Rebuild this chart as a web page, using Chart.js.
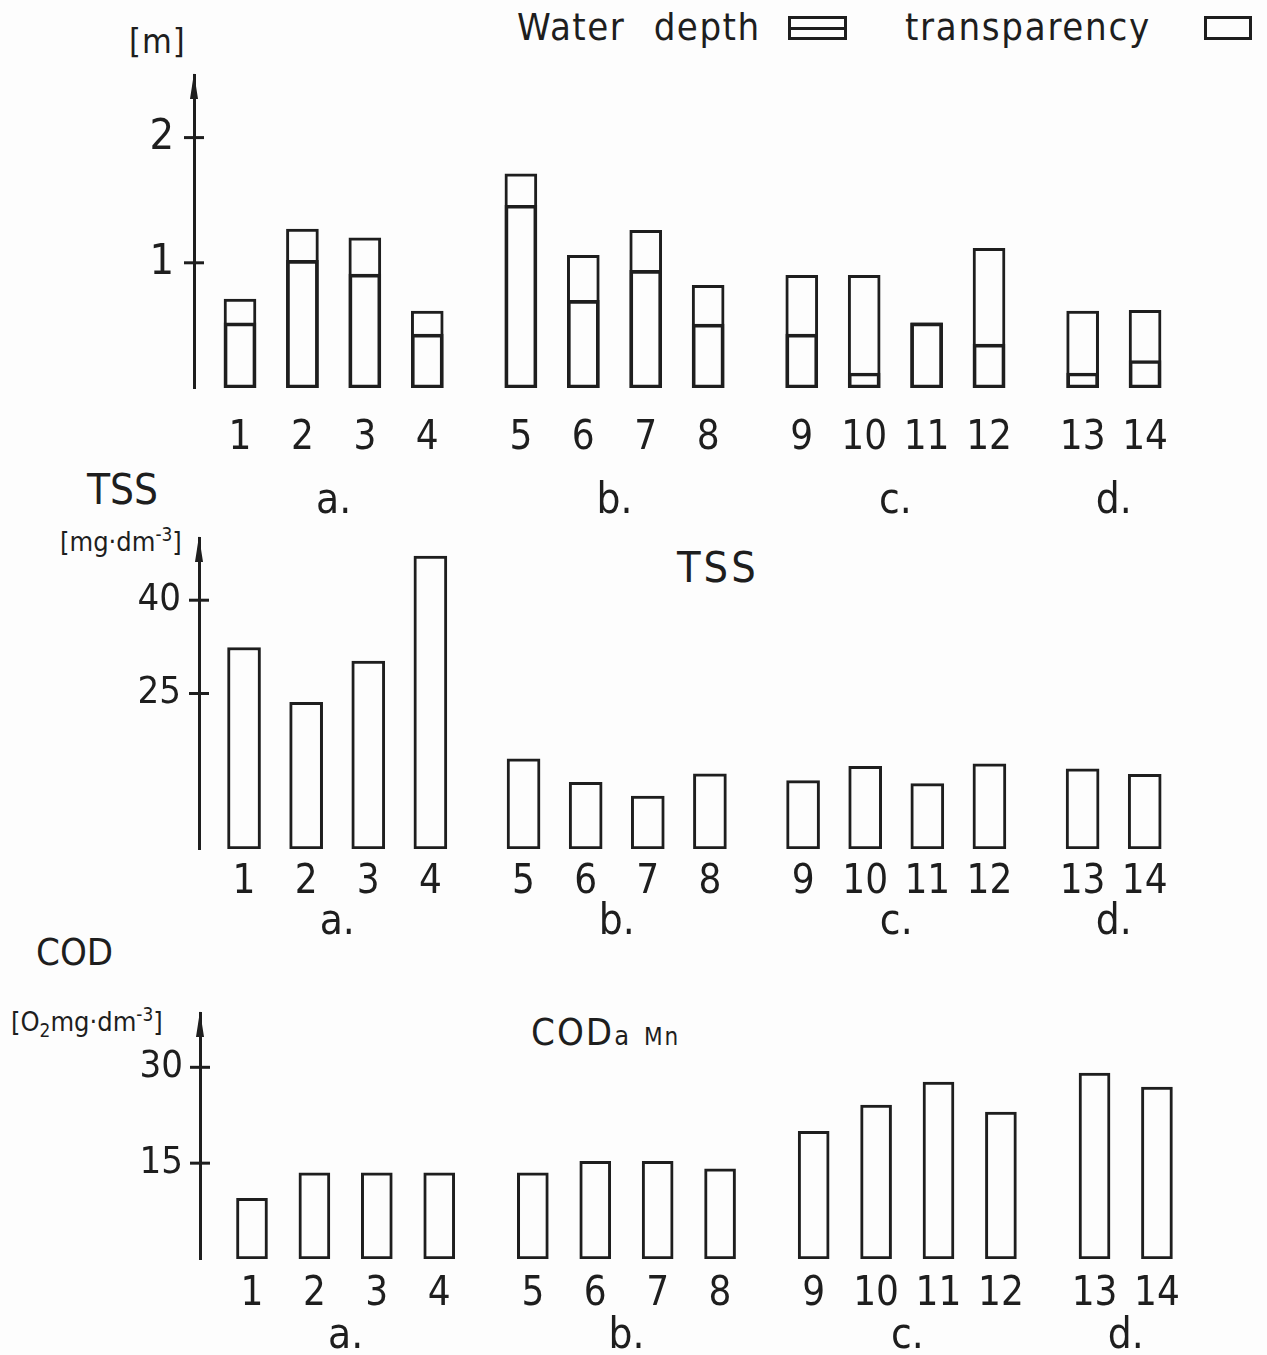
<!DOCTYPE html>
<html>
<head>
<meta charset="utf-8">
<script src="https://cdn.jsdelivr.net/npm/chart.js@4.4.1/dist/chart.umd.min.js"></script>
<style>
  body { margin: 0; background: #fdfdfd; }
  #page { position: relative; width: 1267px; height: 1355px; overflow: hidden;
          font-family: "DejaVu Sans Condensed", "Liberation Sans Narrow", "Liberation Sans", sans-serif; color: #1e1e1e; }
  canvas { position: absolute; left: 0; }
  .lbl { position: absolute; line-height: 1; white-space: pre; }
  .lbl sup { font-size: 0.7em; vertical-align: 0.55em; line-height: 0; }
  .lbl sub { font-size: 0.7em; vertical-align: -0.3em; line-height: 0; }
  .box { position: absolute; border: 3px solid #1e1e1e; box-sizing: border-box; }
  .box .mid { position: absolute; left: 0; right: 0; top: 50%; margin-top: -1.5px; border-top: 3px solid #1e1e1e; }
</style>
</head>
<body>
<div id="page">
  <div class="lbl" style="left:517px; top:8px; font-size:38px; letter-spacing:1.5px; word-spacing:16px;">Water depth</div>
  <div class="box" style="left:788px; top:16px; width:59px; height:24px;"><div class="mid"></div></div>
  <div class="lbl" style="left:905px; top:8px; font-size:38px; letter-spacing:1.7px;">transparency</div>
  <div class="box" style="left:1204px; top:16px; width:48px; height:24px;"></div>

  <div class="lbl" style="left:129px; top:24px; font-size:34px; letter-spacing:1px;">[m]</div>

  <div class="lbl" style="left:87px; top:469px; font-size:42px;">TSS</div>
  <div class="lbl" style="left:60px; top:528px; font-size:27px;">[mg·dm<sup>-3</sup>]</div>
  <div class="lbl" style="left:677px; top:546px; font-size:43px; letter-spacing:3px;">TSS</div>

  <div class="lbl" style="left:36px; top:933px; font-size:38px;">COD</div>
  <div class="lbl" style="left:11px; top:1008px; font-size:27px;">[O<sub>2</sub>mg·dm<sup>-3</sup>]</div>
  <div class="lbl" style="left:531px; top:1013px; font-size:38px; letter-spacing:2px;">COD<span style="font-size:27px;">a</span> <span style="font-size:24px;">Mn</span></div>

  <canvas id="depthChart" width="1267" height="457" style="top:60px;"></canvas>
  <canvas id="tssChart" width="1267" height="413" style="top:525px;"></canvas>
  <canvas id="codChart" width="1267" height="352" style="top:1000px;"></canvas>
</div>
<script>
const INK = '#1e1e1e';

// stations and the lake groups they belong to
const stations = ['1', '2', '3', '4', '5', '6', '7', '8', '9', '10', '11', '12', '13', '14'];
const stationGroup = [0, 0, 0, 0, 1, 1, 1, 1, 2, 2, 2, 2, 3, 3];
const groupLabels = ['a.', 'b.', 'c.', 'd.'];

// [m]
const waterDepth = [0.71, 1.27, 1.20, 0.615, 1.71, 1.06, 1.26, 0.82, 0.90, 0.90, 0.52, 1.115, 0.615, 0.62];
const transparency = [0.52, 1.02, 0.91, 0.43, 1.46, 0.70, 0.94, 0.51, 0.43, 0.12, 0.52, 0.35, 0.12, 0.22];
// [mg·dm-3]
const tss = [32.4, 23.6, 30.2, 47.1, 14.5, 10.7, 8.5, 12.1, 11.0, 13.3, 10.5, 13.7, 12.9, 12.0];
// [O2 mg·dm-3]
const cod = [9.5, 13.5, 13.5, 13.5, 13.5, 15.3, 15.3, 14.1, 20.0, 24.1, 27.7, 23.0, 29.1, 26.9];

const depthTicks = [1, 2];
const tssTicks = [25, 40];
const codTicks = [15, 30];

// half a slot of extra space between groups
const xPos = stations.map((s, i) => i + stationGroup[i] * 0.5);
const groupCenters = groupLabels.map((g, k) => {
    const ps = xPos.filter((p, i) => stationGroup[i] === k);
    return (ps[0] + ps[ps.length - 1]) / 2;
});

Chart.defaults.font.family = '"DejaVu Sans Condensed", "Liberation Sans Narrow", "Liberation Sans", sans-serif';
Chart.defaults.color = INK;

// crossing tick marks on the y axis and the arrow on top of it
const axisDecor = {
    id: 'axisDecor',
    afterDraw(chart) {
        const { ctx, chartArea } = chart;
        const y = chart.scales.y;
        const x0 = chartArea.left;
        ctx.save();
        ctx.strokeStyle = INK;
        ctx.fillStyle = INK;
        ctx.lineWidth = 3;
        y.ticks.forEach(t => {
            const py = y.getPixelForValue(t.value);
            ctx.beginPath();
            ctx.moveTo(x0 - 10, py);
            ctx.lineTo(x0 + 10, py);
            ctx.stroke();
        });
        ctx.beginPath();
        ctx.moveTo(x0, chartArea.top - 2);
        ctx.lineTo(x0 - 4, chartArea.top + 24);
        ctx.lineTo(x0 + 4, chartArea.top + 24);
        ctx.closePath();
        ctx.fill();
        ctx.restore();
    }
};

function barSet(values, extra) {
    return Object.assign({
        data: values.map((v, i) => ({ x: xPos[i], y: v })),
        backgroundColor: '#fdfdfd',
        borderColor: INK,
        borderWidth: 3,
        borderSkipped: false,
        grouped: false
    }, extra);
}

function noPad(s) {
    s.paddingTop = 0;
    s.paddingBottom = 0;
    s.paddingLeft = 0;
    s.paddingRight = 0;
}

function makePanel(id, cfg) {
    return new Chart(document.getElementById(id), {
        type: 'bar',
        data: { datasets: cfg.datasets },
        options: {
            responsive: false,
            animation: false,
            events: [],
            layout: { padding: { top: cfg.padTop, right: 67, left: 0, bottom: 0 } },
            plugins: { legend: { display: false }, tooltip: { enabled: false } },
            scales: {
                x: {
                    type: 'linear', position: 'bottom', weight: 0, offset: false,
                    min: cfg.xMin, max: cfg.xMax,
                    grid: { display: false, drawTicks: false, offset: false },
                    border: { display: false },
                    afterBuildTicks: s => { s.ticks = xPos.map(v => ({ value: v })); },
                    afterFit: s => { s.height = cfg.h1; noPad(s); },
                    ticks: {
                        autoSkip: false, maxRotation: 0, padding: cfg.xPad,
                        font: { size: 40 },
                        callback: (v, i) => stations[i]
                    }
                },
                xg: {
                    type: 'linear', position: 'bottom', weight: 1, offset: false,
                    min: cfg.xMin, max: cfg.xMax,
                    grid: { display: false, drawTicks: false, offset: false },
                    border: { display: false },
                    afterBuildTicks: s => { s.ticks = groupCenters.map(v => ({ value: v })); },
                    afterFit: s => { s.height = 40; noPad(s); },
                    ticks: {
                        autoSkip: false, maxRotation: 0, padding: 0,
                        font: { size: 42 },
                        callback: (v, i) => groupLabels[i]
                    }
                },
                y: {
                    type: 'linear', position: 'left', min: 0, max: cfg.yMax,
                    grid: { display: false, drawTicks: false },
                    border: { display: true, color: INK, width: 3 },
                    afterBuildTicks: s => { s.ticks = cfg.yTicks.map(v => ({ value: v })); },
                    afterFit: s => { s.width = cfg.axisLeft; noPad(s); },
                    ticks: {
                        padding: cfg.yPad,
                        font: { size: cfg.yFont },
                        callback: v => String(v)
                    }
                }
            }
        },
        plugins: [axisDecor]
    });
}

makePanel('depthChart', {
    datasets: [
        barSet(transparency, { backgroundColor: 'rgba(0,0,0,0)', order: 0, barThickness: 32 }),
        barSet(waterDepth, { order: 1, barThickness: 32 })
    ],
    padTop: 15, axisLeft: 194, xMin: -0.737, xMax: 15.38,
    yMax: 2.5, yTicks: depthTicks, yFont: 43, yPad: 20,
    h1: 89, xPad: 27
});

makePanel('tssChart', {
    datasets: [barSet(tss, { barThickness: 33 })],
    padTop: 13, axisLeft: 199, xMin: -0.725, xMax: 15.39,
    yMax: 50, yTicks: tssTicks, yFont: 38, yPad: 18,
    h1: 49, xPad: 10
});

makePanel('codChart', {
    datasets: [barSet(cod, { barThickness: 31 })],
    padTop: 13, axisLeft: 200, xMin: -0.833, xMax: 15.19,
    yMax: 38.5, yTicks: codTicks, yFont: 38, yPad: 17,
    h1: 53, xPad: 12
});
</script>
</body>
</html>
